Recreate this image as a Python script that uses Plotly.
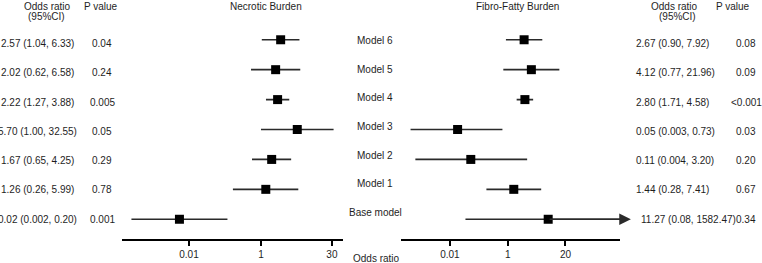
import math
import plotly.graph_objects as go

# ---------------- data ----------------
models = ["Base model", "Model 1", "Model 2", "Model 3", "Model 4", "Model 5", "Model 6"]

nec_or = [0.02, 1.26, 1.67, 5.70, 2.22, 2.02, 2.57]
nec_lo = [0.002, 0.26, 0.65, 1.00, 1.27, 0.62, 1.04]
nec_hi = [0.20, 5.99, 4.25, 32.55, 3.88, 6.58, 6.33]
nec_ci_text = ["0.02 (0.002, 0.20)", "1.26 (0.26, 5.99)", "1.67 (0.65, 4.25)",
               "5.70 (1.00, 32.55)", "2.22 (1.27, 3.88)", "2.02 (0.62, 6.58)",
               "2.57 (1.04, 6.33)"]
nec_p = ["0.001", "0.78", "0.29", "0.05", "0.005", "0.24", "0.04"]

ff_or = [11.27, 1.44, 0.11, 0.05, 2.80, 4.12, 2.67]
ff_lo = [0.08, 0.28, 0.004, 0.003, 1.71, 0.77, 0.90]
ff_hi = [1582.47, 7.41, 3.20, 0.73, 4.58, 21.96, 7.92]
ff_ci_text = ["11.27 (0.08, 1582.47)", "1.44 (0.28, 7.41)", "0.11 (0.004, 3.20)",
              "0.05 (0.003, 0.73)", "2.80 (1.71, 4.58)", "4.12 (0.77, 21.96)",
              "2.67 (0.90, 7.92)"]
ff_p = ["0.34", "0.67", "0.20", "0.03", "<0.001", "0.09", "0.08"]

nec_ticks = [10 ** -1.5, 1, 30]
nec_ticktext = ["0.01", "1", "30"]
ff_ticks = [10 ** -1.5, 1, 10 ** 1.5]
ff_ticktext = ["0.01", "1", "20"]

# ---------------- styling ----------------
W, H = 762, 263
MT, MB = 29, 24
FONT = "Liberation Sans, Arial, sans-serif"
TXT = "#1e1e1e"
LINE = "#2a2a2a"
rows = list(range(len(models)))


def seg(lo, hi):
    xs, ys = [], []
    for i, (a, b) in enumerate(zip(lo, hi)):
        xs += [a, b, None]
        ys += [i, i, None]
    return xs, ys


fig = go.Figure()

for (lo, hi, orv, xa, ya) in [(nec_lo, nec_hi, nec_or, "x", "y"),
                              (ff_lo, ff_hi, ff_or, "x2", "y2")]:
    xs, ys = seg(lo, hi)
    fig.add_trace(go.Scatter(x=xs, y=ys, mode="lines", xaxis=xa, yaxis=ya,
                             line=dict(color=LINE, width=1.7),
                             hoverinfo="skip", showlegend=False))
    fig.add_trace(go.Scatter(x=orv, y=rows, mode="markers", xaxis=xa, yaxis=ya,
                             marker=dict(symbol="square", size=9, color="black"),
                             cliponaxis=False, showlegend=False))

yr = [-0.66, 6.36]
axis_common = dict(type="log", showline=True, linewidth=2, linecolor="black",
                   ticks="outside", ticklen=5, tickwidth=2, tickcolor="black",
                   showgrid=False, zeroline=False,
                   tickfont=dict(family=FONT, size=10, color=TXT))
fig.update_layout(
    width=W, height=H,
    margin=dict(l=0, r=0, t=MT, b=MB),
    paper_bgcolor="white", plot_bgcolor="white",
    showlegend=False,
    xaxis=dict(domain=[121.7 / W, 343.3 / W], range=[-2.902, 1.715],
               tickvals=nec_ticks, ticktext=nec_ticktext, anchor="y", **axis_common),
    xaxis2=dict(domain=[400.7 / W, 620 / W], range=[-2.779, 2.917],
                tickvals=ff_ticks, ticktext=ff_ticktext, anchor="y2", **axis_common),
    yaxis=dict(range=yr, visible=False, domain=[0, 1], anchor="x"),
    yaxis2=dict(range=yr, visible=False, domain=[0, 1], anchor="x2"),
)

# reference lines at OR = 1
for xr, yref in [("x", "y domain"), ("x2", "y2 domain")]:
    fig.add_shape(type="line", xref=xr, yref=yref, x0=0, x1=0, y0=0, y1=1,
                  line=dict(color="black", width=1.3, dash="dot"))

# arrow for truncated CI (Base model, Fibro-Fatty)
fig.add_annotation(xref="x2", yref="y2", axref="x2", ayref="y2",
                   x=math.log10(ff_hi[0]), y=0,
                   ax=math.log10(ff_or[0]), ay=0,
                   showarrow=True, arrowhead=2, arrowsize=1.45, arrowwidth=1.6,
                   arrowcolor=LINE, standoff=0, text="")


def ann(text, x, y, xanchor="center", yref="paper", yshift=0, size=10):
    fig.add_annotation(text=text, x=x / W, y=y, xref="paper", yref=yref,
                       xanchor=xanchor, yanchor="middle", showarrow=False,
                       yshift=yshift, font=dict(family=FONT, size=size, color=TXT))


def py(p):  # pixel y -> paper y (paper spans the plot area)
    return (H - MB - p) / (H - MT - MB)


# headers
ann("Odds ratio", 47, py(6.5))
ann("(95%CI)", 46, py(17))
ann("P value", 101, py(6.5))
ann("Necrotic Burden", 266, py(6.5))
ann("Fibro-Fatty Burden", 517, py(6.5))
ann("Odds ratio", 674, py(6.5))
ann("(95%CI)", 677, py(17))
ann("P value", 733, py(6.5))
ann("Odds ratio", 376, py(258))

# per-row texts
for i in rows:
    ann(nec_ci_text[i], 37, i, yref="y", yshift=-0.6 * i)
    ann(nec_p[i], 102, i, yref="y", yshift=-0.6 * i)
    ann(models[i], 375, i, yref="y", yshift=6.6 - 1.2 * i)
    ann(ff_ci_text[i], 639 if i == 0 else 634, i, xanchor="left", yref="y",
        yshift=-0.6 * i)
    ann(ff_p[i], 746, i, yref="y", yshift=-0.6 * i)

fig.write_html("out.html",
               config={"displayModeBar": False, "staticPlot": True},
               post_script="document.body.style.margin='0';"
                           "document.body.style.overflow='hidden';")
